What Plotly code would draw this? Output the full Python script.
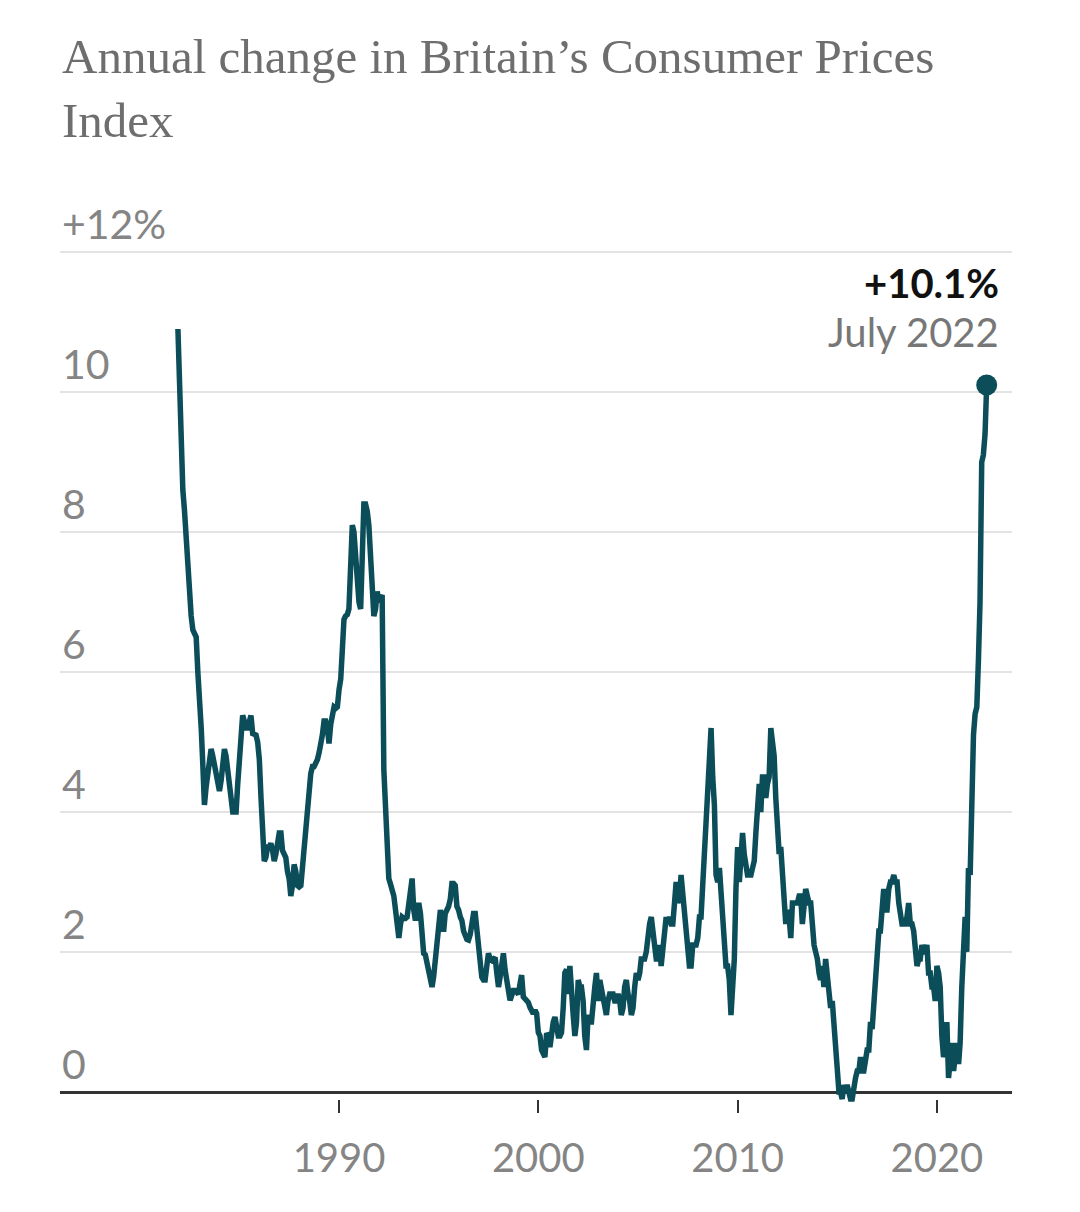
import pandas as pd
import plotly.graph_objects as go

# ---- Data (annual % change in UK CPI, monthly, Dec 1981 .. Jul 2022) ----
start_month = "1981-12-01"

cpi_1980s = [
    10.9,                                                                  # Dec 1981
    9.9, 8.8, 8.6, 8.3, 7.9, 7.5, 7.1, 6.8, 6.6, 6.55, 6.5, 6.0,           # 1982
    5.7, 5.2, 4.7, 4.1, 4.35, 4.6, 4.8, 4.9, 4.8, 4.65, 4.5, 4.35,         # 1983
    4.3, 4.45, 4.7, 4.9, 4.8, 4.55, 4.3, 4.1, 4.0, 4.0, 4.0, 4.4,          # 1984
    4.85, 5.2, 5.38, 5.3, 5.2, 5.2, 5.35, 5.38, 5.12, 5.1, 5.1, 5.0,       # 1985
    4.75, 4.2, 3.5, 3.3, 3.35, 3.5, 3.5, 3.55, 3.45, 3.3, 3.4, 3.65,       # 1986
    3.7, 3.7, 3.45, 3.4, 3.35, 3.15, 3.05, 2.8, 2.95, 3.25, 3.15, 2.95,    # 1987
    2.93, 2.95, 3.2, 3.6, 3.9, 4.15, 4.4, 4.55, 4.65, 4.65, 4.7, 4.75,     # 1988
    4.85, 4.95, 5.1, 5.3, 5.3, 5.2, 4.98, 5.25, 5.45, 5.5, 5.48, 5.5,      # 1989
]
cpi_1990s = [
    5.75, 5.9, 6.3, 6.75, 6.8, 6.82, 6.9, 7.7, 8.1, 8.0, 7.65, 7.3,        # 1990
    7.0, 6.9, 7.5, 8.4, 8.4, 8.3, 8.1, 7.5, 6.95, 6.8, 6.9, 7.15,          # 1991
    7.0, 7.05, 7.1, 4.6, 4.0, 3.55, 3.05, 2.97, 2.9, 2.8, 2.6, 2.4,        # 1992
    2.2, 2.4, 2.5, 2.48, 2.48, 2.5, 2.7, 3.0, 3.05, 2.6, 2.45, 2.6,        # 1993
    2.7, 2.55, 2.2, 1.98, 1.96, 1.85, 1.7, 1.55, 1.5, 1.65, 1.9, 2.2,      # 1994
    2.45, 2.6, 2.45, 2.29, 2.55, 2.6, 2.65, 2.75, 2.98, 2.98, 2.95, 2.65,  # 1995
    2.6, 2.5, 2.45, 2.3, 2.22, 2.18, 2.17, 2.25, 2.4, 2.55, 2.55, 2.3,     # 1996
    2.1, 1.85, 1.64, 1.6, 1.6, 1.8, 1.98, 1.9, 1.88, 1.9, 1.92, 1.7,       # 1997
    1.5, 1.65, 1.85, 1.98, 1.75, 1.55, 1.4, 1.31, 1.38, 1.45, 1.45, 1.42,  # 1998
    1.4, 1.55, 1.67, 1.36, 1.33, 1.31, 1.28, 1.21, 1.18, 1.12, 1.17, 1.12, # 1999
]
cpi_2000s = [
    0.85, 0.8, 0.6, 0.55, 0.5, 0.84, 0.8, 0.64, 0.95, 1.0, 1.07, 0.85,     # 2000
    0.8, 0.8, 0.85, 1.2, 1.7, 1.75, 1.4, 1.8, 1.3, 1.1, 0.8, 1.0,          # 2001
    1.6, 1.5, 1.5, 1.3, 0.8, 0.6, 1.1, 1.0, 1.0, 1.4, 1.5, 1.7,            # 2002
    1.3, 1.6, 1.5, 1.4, 1.3, 1.1, 1.3, 1.4, 1.4, 1.4, 1.3, 1.3,            # 2003
    1.4, 1.3, 1.1, 1.2, 1.5, 1.6, 1.4, 1.3, 1.1, 1.2, 1.5, 1.7,            # 2004
    1.6, 1.7, 1.9, 1.9, 1.9, 2.0, 2.3, 2.4, 2.5, 2.3, 2.1, 1.9,            # 2005
    1.9, 2.1, 1.8, 2.0, 2.2, 2.5, 2.4, 2.5, 2.4, 2.4, 2.7, 3.0,            # 2006
    2.7, 2.8, 3.1, 2.8, 2.5, 2.4, 1.9, 1.8, 1.8, 2.1, 2.1, 2.1,            # 2007
    2.2, 2.5, 2.5, 3.0, 3.3, 3.8, 4.4, 4.7, 5.2, 4.5, 4.1, 3.1,            # 2008
    3.0, 3.2, 2.9, 2.3, 2.2, 1.8, 1.8, 1.6, 1.1, 1.5, 1.9, 2.9,            # 2009
]
cpi_2010s = [
    3.5, 3.0, 3.4, 3.7, 3.4, 3.2, 3.1, 3.1, 3.1, 3.2, 3.3, 3.7,            # 2010
    4.0, 4.4, 4.0, 4.5, 4.5, 4.2, 4.4, 4.5, 5.2, 5.0, 4.8, 4.2,            # 2011
    3.6, 3.4, 3.5, 3.0, 2.8, 2.4, 2.6, 2.5, 2.2, 2.7, 2.7, 2.7,            # 2012
    2.7, 2.8, 2.8, 2.4, 2.7, 2.9, 2.8, 2.7, 2.7, 2.2, 2.1, 2.0,            # 2013
    1.9, 1.7, 1.6, 1.8, 1.5, 1.9, 1.6, 1.5, 1.2, 1.3, 1.0, 0.5,            # 2014
    0.3, 0.0, 0.0, -0.1, 0.1, 0.0, 0.1, 0.0, -0.1, -0.1, 0.1, 0.2,         # 2015
    0.3, 0.3, 0.5, 0.3, 0.3, 0.5, 0.6, 0.6, 1.0, 0.9, 1.2, 1.6,            # 2016
    1.8, 2.3, 2.3, 2.7, 2.9, 2.6, 2.6, 2.9, 3.0, 3.0, 3.1, 3.0,            # 2017
    3.0, 2.7, 2.5, 2.4, 2.4, 2.4, 2.5, 2.7, 2.4, 2.4, 2.3, 2.1,            # 2018
    1.8, 1.9, 1.9, 2.1, 2.0, 2.0, 2.1, 1.7, 1.7, 1.5, 1.5, 1.3,            # 2019
]
cpi_2020s = [
    1.8, 1.7, 1.5, 0.8, 0.5, 0.6, 1.0, 0.2, 0.5, 0.7, 0.3, 0.6,            # 2020
    0.7, 0.4, 0.7, 1.5, 2.1, 2.5, 2.0, 3.2, 3.1, 4.2, 5.1, 5.4,            # 2021
    5.5, 6.2, 7.0, 9.0, 9.1, 9.4, 10.1,                                    # 2022
]

y_ticks = [0, 2, 4, 6, 8, 10, 12]
y_tick_labels = ["0", "2", "4", "6", "8", "10", "+12%"]
x_ticks = ["1990-01-01", "2000-01-01", "2010-01-01", "2020-01-01"]
x_tick_labels = ["1990", "2000", "2010", "2020"]

title_text = "Annual change in Britain\u2019s Consumer Prices<br>Index"

# ---- Build ----
values = cpi_1980s + cpi_1990s + cpi_2000s + cpi_2010s + cpi_2020s
months = pd.date_range(start_month, periods=len(values), freq="MS")

LINE = "#0b4d59"
GRID = "#e3e3e3"
AXIS = "#333333"
LABEL = "#858585"
SANS = "Lato, 'Open Sans', sans-serif"

W, H = 1080, 1212
ML, MR, MT, MB = 60, 68, 231, 99
Y_RANGE = [-0.3, 12.3]
plot_h = H - MT - MB

fig = go.Figure()
fig.add_trace(go.Scatter(
    x=months, y=values, mode="lines",
    line=dict(color=LINE, width=5.5),
    hoverinfo="skip",
))
fig.add_trace(go.Scatter(
    x=[months[-1]], y=[values[-1]], mode="markers",
    marker=dict(color=LINE, size=21),
    hoverinfo="skip",
))

annotations = []
for v, lab in zip(y_ticks, y_tick_labels):
    annotations.append(dict(
        x=0, xref="paper", y=v, yref="y", xanchor="left", yanchor="bottom",
        text=lab, showarrow=False, yshift=2,
        font=dict(family=SANS, size=41, color=LABEL),
    ))

last_val = values[-1]
last_month = months[-1]
annotations.append(dict(
    x=last_month, y=last_val, xref="x", yref="y",
    xanchor="right", yanchor="middle", xshift=14, yshift=102,
    text=f"<b>+{last_val:.1f}%</b>", showarrow=False,
    font=dict(family=SANS, size=40, color="#111111"),
))
annotations.append(dict(
    x=last_month, y=last_val, xref="x", yref="y",
    xanchor="right", yanchor="middle", xshift=14, yshift=53,
    text=last_month.strftime("%B %Y"), showarrow=False,
    font=dict(family=SANS, size=40, color="#777777"),
))
annotations.append(dict(
    x=62, xref="paper", y=0, yref="paper", showarrow=False, text="",
))
annotations.pop()

fig.update_layout(
    width=W, height=H, autosize=False,
    margin=dict(l=ML, r=MR, t=MT, b=MB),
    paper_bgcolor="white", plot_bgcolor="white",
    showlegend=False,
    title=dict(
        text=title_text, x=62 / W, xanchor="left", xref="container",
        y=1 - 73 / H, yanchor="top", yref="container",
        font=dict(family="'Liberation Serif', 'DejaVu Serif', serif", size=49, color="#6e6e6e"),
    ),
    annotations=annotations,
)

fig.update_xaxes(
    type="date", range=["1976-01-01", "2023-10-08"],
    tickvals=x_ticks, ticktext=x_tick_labels,
    ticks="outside", ticklen=13, tickwidth=2, tickcolor=AXIS,
    showline=False, showgrid=False, zeroline=False,
    anchor="free", position=14 / plot_h,
    tickfont=dict(family=SANS, size=40, color=LABEL),
    ticklabelstandoff=11,
)
fig.update_yaxes(
    range=Y_RANGE, tickvals=y_ticks, showticklabels=False, ticks="",
    showgrid=True, gridcolor=GRID, gridwidth=2,
    zeroline=True, zerolinecolor=AXIS, zerolinewidth=3,
    showline=False,
)

fig.write_html("out.html")
